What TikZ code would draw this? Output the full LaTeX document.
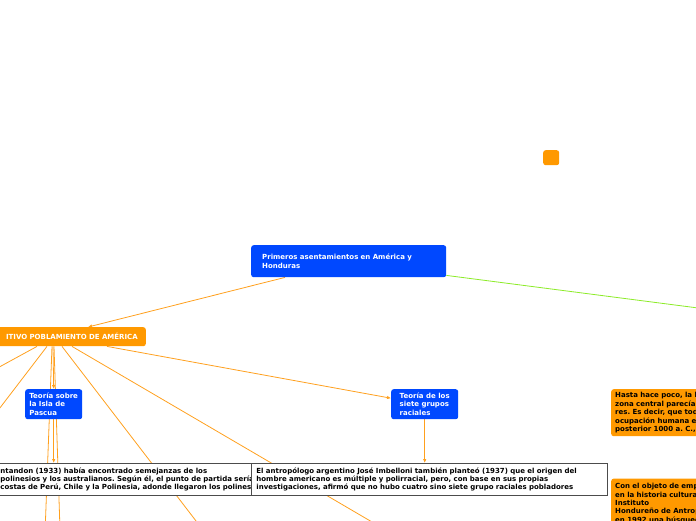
\documentclass[tikz,border=0pt]{standalone}
\usepackage{fontspec}
\setmainfont{DejaVu Sans}
\usepackage{xcolor}
\usepackage{tikz}
\usetikzlibrary{arrows.meta,positioning,backgrounds}
\definecolor{mmblue}{RGB}{0,72,255}
\definecolor{mmorange}{RGB}{255,153,0}
\definecolor{mmline}{RGB}{255,160,30}
\definecolor{mmgreen}{RGB}{140,235,40}
\frenchspacing

\begin{document}
\begin{tikzpicture}[x=1pt, y=-1pt, every node/.style={font=\fontsize{7}{8.4}\selectfont\bfseries}, box/.style={rounded corners=2.5pt,align=left,anchor=north west,inner xsep=4pt,inner ysep=0pt}, bluebox/.style={box,fill=mmblue,text=white}, orangebox/.style={box,fill=mmorange,text=black}, notebox/.style={box,rounded corners=0pt,fill=white,draw=black!70,line width=0.9pt,text=black}, arr/.style={-{Latex[length=4pt,width=3.5pt]},mmline,line width=0.8pt}, lnk/.style={mmline,line width=0.8pt}]
\useasboundingbox (0,0) rectangle (696,520);
\node[bluebox,minimum width=195pt,minimum height=32pt,text width=173pt,inner xsep=11pt] (root) at (251,245) {Primeros asentamientos en América y\\Honduras};
\node[orangebox,anchor=north east,minimum height=19pt,text width=184pt,inner xsep=8pt,align=right,text=white] (prim) at (146,327) {ITIVO POBLAMIENTO DE AMÉRICA};
\node[bluebox,minimum width=57pt,minimum height=30pt] (isla) at (25,389) {Teoría sobre\\la Isla de\\Pascua};
\node[bluebox,minimum width=67pt,minimum height=30pt] (siete) at (391,389) {Teoría de los\\siete grupos\\raciales};
\node[notebox,minimum height=32pt,text width=300pt] (montandon) at (-4,463) {ntandon (1933) había encontrado semejanzas de los\\polinesios y los australianos. Según él, el punto de partida sería\\costas de Perú, Chile y la Polinesia, adonde llegaron los polinesios};
\node[notebox,minimum height=32pt,text width=346pt,inner xsep=5pt] (imbelloni) at (251,463) {El antropólogo argentino José Imbelloni también planteó (1937) que el origen del\\hombre americano es múltiple y polirracial, pero, con base en sus propias\\investigaciones, afirmó que no hubo cuatro sino siete grupo raciales pobladores};
\node[orangebox,minimum height=47pt,text width=120pt] (hasta) at (611,389) {Hasta hace poco, la h\\zona central parecía\\res. Es decir, que tod\\ocupación humana e\\posterior 1000 a. C.,};
\node[orangebox,below=42pt of hasta,minimum height=50pt,text width=120pt] (objeto) {Con el objeto de emp\\en la historia cultura\\Instituto\\Hondureño de Antrop\\en 1992 una búsqued};
\node[orangebox,minimum width=16pt,minimum height=15pt,inner sep=0pt] (spare) at (543,150) {};
\begin{scope}[on background layer]
\coordinate (offA) at (44,560); \coordinate (offB) at (61,560);
\coordinate (offC) at (-30,383); \coordinate (offD) at (-30,447);
\coordinate (offE) at (226,560); \coordinate (offF) at (437,560);
\coordinate (offG) at (760,316);
\draw[arr] ([xshift=34pt]root.south west)--([xshift=-58pt]prim.north east);
\draw[lnk,mmgreen] ([yshift=2pt]root.south east)--(offG);
\draw[arr] ([xshift=-93pt]prim.south east)--(isla.north);
\draw[lnk] ([xshift=-94pt]prim.south east)--(offA);
\draw[lnk] ([xshift=-92pt]prim.south east)--(offB);
\draw[lnk] ([xshift=-109pt]prim.south east)--(offC);
\draw[lnk] ([xshift=-99pt]prim.south east)--(offD);
\draw[lnk] ([xshift=-84pt]prim.south east)--(offE);
\draw[lnk] ([xshift=-74pt]prim.south east)--(offF);
\draw[arr] ([xshift=-39pt]prim.south east)--([yshift=6pt]siete.west);
\draw[arr] (isla.south)--(isla.south |- montandon.north);
\draw[arr] (siete.south)--(siete.south |- imbelloni.north);
\end{scope}
\end{tikzpicture}
\end{document}
